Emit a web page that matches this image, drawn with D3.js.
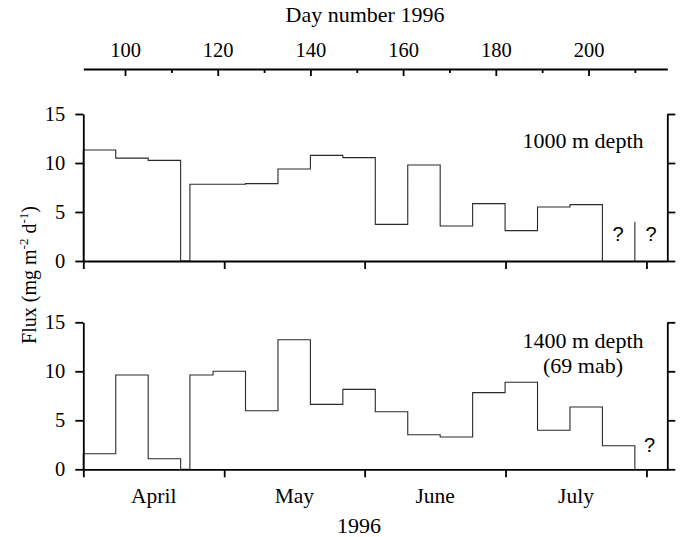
<!DOCTYPE html>
<html>
<head>
<meta charset="utf-8">
<title>Flux 1996</title>
<script src="https://d3js.org/d3.v7.min.js"></script>
<style>
  body { margin: 0; background: #fff; }
  svg text { font-family: "Liberation Serif", "Times New Roman", serif; fill: #000; }
  .axis path, .axis line { stroke: #000; stroke-width: 1.8; }
  .q { font-family: "Liberation Sans", Arial, sans-serif !important; }
</style>
</head>
<body>
<div id="chart"></div>
<script>
// sample periods (day number 1996), weekly traps
var binStart = [91, 98, 105, 114, 119, 126, 133, 140, 147, 154, 161, 168, 175, 182, 189, 196, 203];
var binEnd   = [98, 105, 112, 119, 126, 133, 140, 147, 154, 161, 168, 175, 182, 189, 196, 203, 210];

// flux values, mg m-2 d-1 (null = no sample)
var flux1000 = [11.33, 10.5, 10.27, 7.83, 7.83, 7.9, 9.39, 10.78, 10.55, 3.74, 9.8, 3.57, 5.85, 3.1, 5.51, 5.75, null];
var flux1400 = [1.59, 9.62, 1.08, 9.62, 10.0, 5.98, 13.22, 6.63, 8.16, 5.88, 3.53, 3.29, 7.82, 8.88, 3.98, 6.36, 2.41];

// single bar at the end of the 1000 m record
var markDay1000 = [210];
var markVal1000 = [4.0];

// "?" positions (day, flux)
var qDays1000 = [206.4, 213.5];
var qVals1000 = [2.0, 2.0];
var qDays1400 = [213.2];
var qVals1400 = [1.75];

// axis ticks
var dayMajor = [100, 120, 140, 160, 180, 200];
var dayMinor = [110, 130, 150, 170, 190, 210];
var fluxTicks = [0, 5, 10, 15];
var monthTickDays = [91, 121.4, 151.7, 182.1, 212.5];
var monthNames = ["April", "May", "June", "July"];

var W = 681, H = 537;
var svg = d3.select("#chart").append("svg").attr("width", W).attr("height", H);

var x = d3.scaleLinear().domain([91, 217]).range([83.3, 667.3]);

var panels = [
    { vals: flux1000, top: 114, bottom: 261, label: ["1000 m depth"], labelY: 148.3,
      qd: qDays1000, qv: qVals1000, md: markDay1000, mv: markVal1000 },
    { vals: flux1400, top: 322.3, bottom: 469.3, label: ["1400 m depth", "(69 mab)"], labelY: 348.3,
      qd: qDays1400, qv: qVals1400, md: [], mv: [] }
];

// top day-number axis
var topAxis = svg.append("g").attr("class", "axis").attr("transform", "translate(0,69)");
topAxis.call(d3.axisTop(x).tickValues(dayMajor).tickSizeInner(-7).tickSizeOuter(0).tickPadding(12))
    .selectAll("text").attr("font-size", 20.5).attr("dy", 0);
topAxis.append("g").call(d3.axisTop(x).tickValues(dayMinor).tickSizeInner(-4).tickSizeOuter(0).tickFormat(""))
    .select(".domain").remove();

svg.append("text").attr("x", 365).attr("y", 21.7).attr("text-anchor", "middle")
    .attr("font-size", 22).text("Day number 1996");

panels.forEach(function (p) {
    var y = d3.scaleLinear().domain([0, 15]).range([p.bottom, p.top]);

    // step outline
    var pts = [];
    var prevEnd = null;
    for (var i = 0; i < p.vals.length; i++) {
        var v = p.vals[i];
        if (v === null) continue;
        if (prevEnd === null) {
            pts.push([binStart[i], 0]);
        } else if (prevEnd !== binStart[i]) {
            pts.push([prevEnd, 0]);
            pts.push([binStart[i], 0]);
        }
        pts.push([binStart[i], v]);
        pts.push([binEnd[i], v]);
        prevEnd = binEnd[i];
    }
    pts.push([prevEnd, 0]);

    var line = d3.line().x(function (d) { return x(d[0]); }).y(function (d) { return y(d[1]); });
    svg.append("path").attr("d", line(pts)).attr("fill", "none")
        .attr("stroke", "#2a2a2a").attr("stroke-width", 1.1);

    svg.selectAll(null).data(p.md).enter().append("line")
        .attr("x1", function (d) { return x(d); }).attr("x2", function (d) { return x(d); })
        .attr("y1", y(0)).attr("y2", function (d, i) { return y(p.mv[i]); })
        .attr("stroke", "#2a2a2a").attr("stroke-width", 1.1);

    // axes
    var gl = svg.append("g").attr("class", "axis").attr("transform", "translate(" + x(91) + ",0)")
        .call(d3.axisLeft(y).tickValues(fluxTicks).tickSize(8).tickSizeOuter(0).tickPadding(10));
    gl.selectAll("text").attr("font-size", 20.5);

    svg.append("g").attr("class", "axis").attr("transform", "translate(" + x(217) + ",0)")
        .call(d3.axisRight(y).tickValues(fluxTicks).tickSize(8).tickSizeOuter(0).tickFormat(""));

    svg.append("g").attr("class", "axis").attr("transform", "translate(0," + p.bottom + ")")
        .call(d3.axisBottom(x).tickValues(monthTickDays).tickSize(8).tickSizeOuter(0).tickFormat(""));

    // depth label
    p.label.forEach(function (t, k) {
        svg.append("text").attr("x", 583).attr("y", p.labelY + k * 24.4)
            .attr("text-anchor", "middle").attr("font-size", 22).text(t);
    });

    svg.selectAll(null).data(p.qd).enter().append("text").attr("class", "q")
        .attr("x", function (d) { return x(d); })
        .attr("y", function (d, i) { return y(p.qv[i]); })
        .attr("text-anchor", "middle").attr("font-size", 20).text("?");
});

// month labels
svg.selectAll(".month").data(monthNames).enter().append("text")
    .attr("class", "month")
    .attr("x", function (d, i) { return x((monthTickDays[i] + monthTickDays[i + 1]) / 2); })
    .attr("y", 503.3).attr("text-anchor", "middle").attr("font-size", 21.5)
    .text(function (d) { return d; });

svg.append("text").attr("x", 359).attr("y", 533).attr("text-anchor", "middle")
    .attr("font-size", 22).text("1996");

// y label
var yl = svg.append("text").attr("transform", "translate(36,275) rotate(-90)")
    .attr("text-anchor", "middle").attr("font-size", 20);
yl.append("tspan").text("Flux (mg m");
yl.append("tspan").attr("font-size", 13).attr("dy", -8).text("-2");
yl.append("tspan").attr("dy", 8).text(" d");
yl.append("tspan").attr("font-size", 13).attr("dy", -8).text("-1");
yl.append("tspan").attr("dy", 8).text(")");
</script>
</body>
</html>
